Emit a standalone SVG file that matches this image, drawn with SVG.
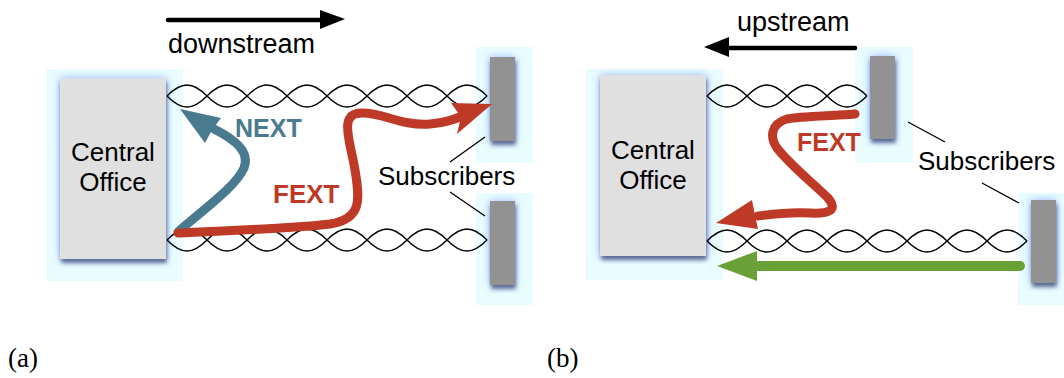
<svg xmlns="http://www.w3.org/2000/svg" xmlns:xlink="http://www.w3.org/1999/xlink" width="1064" height="378" viewBox="0 0 1064 378">
  <style>
    .halo { fill: #e9fdff; }
    .office { fill: #e0e0e0; filter: url(#shade); }
    .sub { fill: #929292; filter: url(#shade); }
    .lbl { font-family: "Liberation Sans", Arial, sans-serif; font-size: 26px; fill: #000; }
    .tag { font-family: "Liberation Sans", Arial, sans-serif; font-size: 25px; font-weight: bold; }
    .cap { font-family: "Liberation Serif", "DejaVu Serif", serif; font-size: 27px; fill: #000; }
    .wire { fill: none; stroke: #000; stroke-width: 1.4; }
    .lead { fill: none; stroke: #000; stroke-width: 1.3; }
    .dir { fill: none; stroke: #000; stroke-width: 4.5; stroke-linecap: round; }
    .next { fill: none; stroke: #4a7a8f; stroke-width: 9; stroke-linecap: round; }
    .fext { fill: none; stroke: #be3a26; stroke-width: 9; stroke-linecap: round; }
    .up { fill: none; stroke: #69a137; stroke-width: 10; stroke-linecap: round; }
  </style>
  <defs>
    <filter id="shade" x="-40%" y="-20%" width="180%" height="150%">
      <feGaussianBlur in="SourceAlpha" stdDeviation="4" result="b1"/>
      <feFlood flood-color="#7f9dff" flood-opacity="0.75"/>
      <feComposite in2="b1" operator="in" result="glow"/>
      <feGaussianBlur in="SourceAlpha" stdDeviation="2" result="b2"/>
      <feOffset in="b2" dx="1" dy="4" result="o2"/>
      <feFlood flood-color="#1a2448" flood-opacity="0.7"/>
      <feComposite in2="o2" operator="in" result="dark"/>
      <feMerge>
        <feMergeNode in="glow"/>
        <feMergeNode in="dark"/>
        <feMergeNode in="SourceGraphic"/>
      </feMerge>
    </filter>
    <!-- one twisted pair, four half-twists of 40px each -->
    <g id="pair4" class="wire">
      <path d="M0,0 c14.4,-14.7 25.6,-14.7 40,0 s25.6,14.7 40,0 s25.6,-14.7 40,0 s25.6,14.7 40,0"/>
      <path d="M0,0 c14.4,14.7 25.6,14.7 40,0 s25.6,-14.7 40,0 s25.6,14.7 40,0 s25.6,-14.7 40,0"/>
    </g>
  </defs>

  <!-- halos behind the equipment -->
  <g id="halos">
    <rect class="halo" x="46" y="69" width="137" height="212"/>
    <rect class="halo" x="476" y="47" width="57" height="116"/>
    <rect class="halo" x="476" y="193" width="57" height="112"/>
    <rect class="halo" x="586" y="69" width="137" height="211"/>
    <rect class="halo" x="855" y="47" width="58" height="116"/>
    <rect class="halo" x="1018" y="193" width="46" height="112"/>
  </g>

  <!-- (a) downstream -->
  <g id="central-office-a">
    <rect class="office" x="60" y="78" width="106" height="181"/>
    <text class="lbl" x="113" y="161" text-anchor="middle">Central</text>
    <text class="lbl" x="113" y="191" text-anchor="middle">Office</text>
  </g>
  <g id="subscriber-a1"><rect class="sub" x="490" y="57" width="25" height="84"/></g>
  <g id="subscriber-a2"><rect class="sub" x="490" y="201" width="25" height="84"/></g>

  <!-- (b) upstream -->
  <g id="central-office-b">
    <rect class="office" x="600" y="75" width="106" height="181"/>
    <text class="lbl" x="653" y="159" text-anchor="middle">Central</text>
    <text class="lbl" x="653" y="189" text-anchor="middle">Office</text>
  </g>
  <g id="subscriber-b1"><rect class="sub" x="870" y="56" width="25" height="83"/></g>
  <g id="subscriber-b2"><rect class="sub" x="1031" y="200" width="25" height="83"/></g>

  <g id="connectors">
    <!-- twisted pairs -->
    <use xlink:href="#pair4" x="167" y="96"/>
    <use xlink:href="#pair4" x="327" y="96"/>
    <use xlink:href="#pair4" x="167" y="240"/>
    <use xlink:href="#pair4" x="327" y="240"/>
    <use xlink:href="#pair4" x="707" y="96"/>
    <use xlink:href="#pair4" x="707" y="241"/>
    <use xlink:href="#pair4" x="867" y="241"/>

    <!-- direction arrows -->
    <path class="dir" d="M168,20 H322"/>
    <polygon points="345,19 320,10 320,29" fill="#000"/>
    <path class="dir" d="M855,48 H726"/>
    <polygon points="704,47 729,37 729,57" fill="#000"/>

    <!-- leaders to the Subscribers label -->
    <path class="lead" d="M450,162 L485,137 M450,192 L485,216"/>
    <path class="lead" d="M908,122 L945,142 M982,183 L1019,203"/>

    <!-- NEXT -->
    <path class="next" d="M178,232 C200,212 235,188 244,168 C250,152 236,140 214,129"/>
    <polygon points="180,109 221,118 212,130 205,143" fill="#4a7a8f"/>

    <!-- FEXT (a) -->
    <path class="fext" d="M178,233 C240,230 300,228 330,224 C362,219 360,200 355,170 C350,140 338,113 362,113 C385,113 400,126 430,124 C445,123 455,119 465,115"/>
    <polygon points="492,104 451,103 461,117 457,134" fill="#be3a26"/>

    <!-- FEXT (b) -->
    <path class="fext" d="M855,114 C830,116 800,116 787,119 C770,124 770,138 777,148 C790,165 815,185 828,198 C838,210 830,214 810,213 C795,212 780,213 758,216"/>
    <polygon points="716,223 752,200 755,215 758,229" fill="#be3a26"/>

    <!-- upstream signal -->
    <path class="up" d="M1020,266 H752"/>
    <polygon points="717,266 757,251 757,281" fill="#69a137"/>
  </g>

  <!-- labels -->
  <g id="labels">
    <text class="lbl" x="168" y="53" style="font-size:27px">downstream</text>
    <text class="lbl" x="737" y="31" style="font-size:27px">upstream</text>
    <text class="tag" x="235" y="137" fill="#4a7a8f">NEXT</text>
    <text class="tag" x="273" y="203" fill="#be3a26" style="font-size:26px">FEXT</text>
    <text class="tag" x="797" y="151" fill="#be3a26">FEXT</text>
    <text class="lbl" x="378" y="185">Subscribers</text>
    <text class="lbl" x="918" y="170">Subscribers</text>
    <text class="cap" x="8" y="367">(a)</text>
    <text class="cap" x="547" y="367">(b)</text>
  </g>
</svg>
